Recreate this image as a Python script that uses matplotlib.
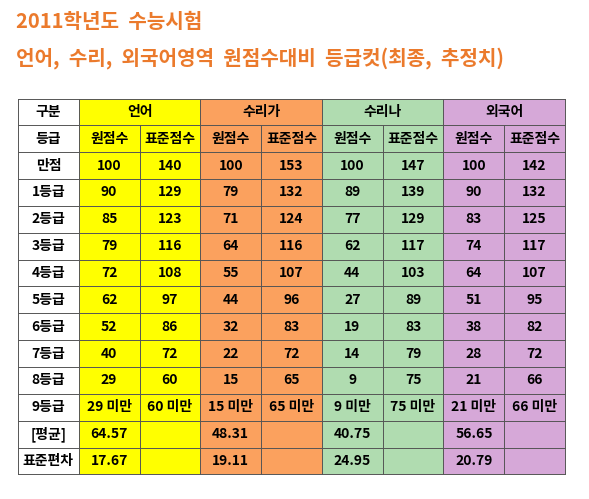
import matplotlib
matplotlib.use("Agg")
import matplotlib.pyplot as plt
from matplotlib.patches import Rectangle

plt.rcParams['font.family'] = ['Noto Sans CJK KR', 'DejaVu Sans']

title1 = "2011학년도  수능시험"
title2 = "언어,  수리,  외국어영역  원점수대비  등급컷(최종,  추정치)"
subjects = ["언어", "수리가", "수리나", "외국어"]
sub_cols = ["원점수", "표준점수"]
row_labels = ["만점", "1등급", "2등급", "3등급", "4등급", "5등급", "6등급", "7등급", "8등급", "9등급", "[평균]", "표준편차"]
lang = [["100", "140"], ["90", "129"], ["85", "123"], ["79", "116"], ["72", "108"], ["62", "97"],
        ["52", "86"], ["40", "72"], ["29", "60"], ["29 미만", "60 미만"], ["64.57", ""], ["17.67", ""]]
math_ga = [["100", "153"], ["79", "132"], ["71", "124"], ["64", "116"], ["55", "107"], ["44", "96"],
           ["32", "83"], ["22", "72"], ["15", "65"], ["15 미만", "65 미만"], ["48.31", ""], ["19.11", ""]]
math_na = [["100", "147"], ["89", "139"], ["77", "129"], ["62", "117"], ["44", "103"], ["27", "89"],
           ["19", "83"], ["14", "79"], ["9", "75"], ["9 미만", "75 미만"], ["40.75", ""], ["24.95", ""]]
foreign = [["100", "142"], ["90", "132"], ["83", "125"], ["74", "117"], ["64", "107"], ["51", "95"],
           ["38", "82"], ["28", "72"], ["21", "66"], ["21 미만", "66 미만"], ["56.65", ""], ["20.79", ""]]
data = [lang, math_ga, math_na, foreign]
colors = ["#FFFF00", "#FBA15E", "#B0DCB0", "#D6A8D8"]

W, H = 589, 499
fig = plt.figure(figsize=(W / 100, H / 100), dpi=100)
ax = fig.add_axes([0, 0, 1, 1])
ax.set_xlim(0, W)
ax.set_ylim(H, 0)
ax.axis('off')

orange = "#EB7A2C"
ax.text(16, 21, title1, fontsize=14.5, color=orange, va='center', ha='left', fontweight='bold')
ax.text(16, 58, title2, fontsize=14.5, color=orange, va='center', ha='left', fontweight='bold')

x0, y0 = 18, 98.5
cw = (565 - 18) / 9
rh = 26.85
lc = "#555555"
fs = 10

for s in range(4):
    ax.add_patch(Rectangle((x0 + cw * (1 + 2 * s), y0), 2 * cw, 14 * rh, facecolor=colors[s], edgecolor='none'))

def cell(col, row, txt):
    ax.text(x0 + cw * (col + 0.5), y0 + rh * (row + 0.5), txt, ha='center', va='center',
            fontsize=fs, fontweight='bold', color='black')

cell(0, 0, "구분")
cell(0, 1, "등급")
for s, name in enumerate(subjects):
    ax.text(x0 + cw * (1 + 2 * s + 1), y0 + rh * 0.5, name, ha='center', va='center',
            fontsize=fs, fontweight='bold')
    for k, sc in enumerate(sub_cols):
        cell(1 + 2 * s + k, 1, sc)
for r, lab in enumerate(row_labels):
    cell(0, r + 2, lab)
    for s in range(4):
        for k in range(2):
            cell(1 + 2 * s + k, r + 2, data[s][r][k])

for r in range(15):
    ax.plot([x0, x0 + 9 * cw], [y0 + r * rh] * 2, color=lc, lw=0.7)
for c in range(10):
    if c in (2, 4, 6, 8):
        ax.plot([x0 + c * cw] * 2, [y0 + rh, y0 + 14 * rh], color=lc, lw=0.7)
    else:
        ax.plot([x0 + c * cw] * 2, [y0, y0 + 14 * rh], color=lc, lw=0.7)

fig.savefig("out.png", dpi=100)
